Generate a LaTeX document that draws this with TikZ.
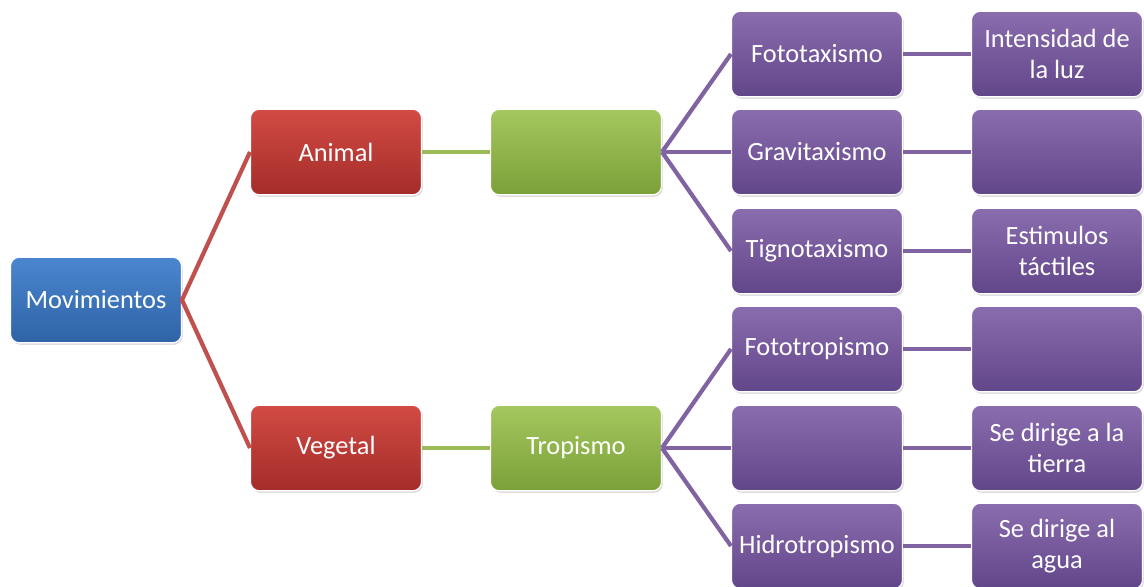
\documentclass[tikz,border=0pt]{standalone}
\usepackage{fontspec}
\setmainfont{Carlito}
\usetikzlibrary{shadows}

% colores de las cajas
\definecolor{azulA}{HTML}{4A86CF}
\definecolor{azulB}{HTML}{2F63A6}
\definecolor{rojoA}{HTML}{D24B44}
\definecolor{rojoB}{HTML}{A42C29}
\definecolor{verdeA}{HTML}{A4C85E}
\definecolor{verdeB}{HTML}{7CA039}
\definecolor{moradoA}{HTML}{8A6DAE}
\definecolor{moradoB}{HTML}{62468A}
\definecolor{lrojo}{HTML}{C0504D}
\definecolor{lverde}{HTML}{9BBB59}
\definecolor{lmorado}{HTML}{8064A2}

\begin{document}
\begin{tikzpicture}[x=0.02cm, y=-0.02cm,
  caja/.style={rounded corners=5pt, minimum width=3.42cm, minimum height=1.71cm,
    align=center, inner sep=0pt, text=white,
    font=\fontsize{15}{17.5}\selectfont, draw=white, line width=0.6pt,
    drop shadow={opacity=0.25, shadow xshift=0.8pt, shadow yshift=-1.2pt}},
  cazul/.style={caja, top color=azulA, bottom color=azulB},
  crojo/.style={caja, top color=rojoA, bottom color=rojoB},
  cverde/.style={caja, top color=verdeA, bottom color=verdeB},
  cmorado/.style={caja, top color=moradoA, bottom color=moradoB},
  linea/.style={line width=2.4pt}]
  \useasboundingbox (0,0) rectangle (1144,587);

  % raiz
  \node[cazul] (mov) at (96,300) {Movimientos};

  % segundo nivel
  \node[crojo] (ani) at (336,152) {Animal};
  \node[crojo] (veg) at (336,448) {Vegetal};

  % tercer nivel
  \node[cverde] (tax) at (576,152) {};
  \node[cverde] (tro) at (576,448) {Tropismo};

  % cuarto nivel
  \node[cmorado] (fta) at (817,54) {Fototaxismo};
  \node[cmorado] (gta) at (817,152) {Gravitaxismo};
  \node[cmorado] (tta) at (817,251) {Tignotaxismo};
  \node[cmorado] (ftr) at (817,349) {Fototropismo};
  \node[cmorado] (gtr) at (817,448) {};
  \node[cmorado] (htr) at (817,546) {Hidrotropismo};

  % quinto nivel
  \node[cmorado] (fta2) at (1057,54) {Intensidad de\\la luz};
  \node[cmorado] (gta2) at (1057,152) {};
  \node[cmorado] (tta2) at (1057,251) {Estimulos\\táctiles};
  \node[cmorado] (ftr2) at (1057,349) {};
  \node[cmorado] (gtr2) at (1057,448) {Se dirige a la\\tierra};
  \node[cmorado] (htr2) at (1057,546) {Se dirige al\\agua};

  % conectores
  \draw[linea, lrojo] (ani.west) -- (mov.east) -- (veg.west);
  \draw[linea, lverde] (ani) -- (tax);
  \draw[linea, lverde] (veg) -- (tro);
  \foreach \a in {fta, gta, tta}
    \draw[linea, lmorado] (tax.east) -- (\a.west);
  \foreach \a in {ftr, gtr, htr}
    \draw[linea, lmorado] (tro.east) -- (\a.west);
  \foreach \a in {fta, gta, tta, ftr, gtr, htr}
    \draw[linea, lmorado] (\a) -- (\a2);
\end{tikzpicture}
\end{document}
